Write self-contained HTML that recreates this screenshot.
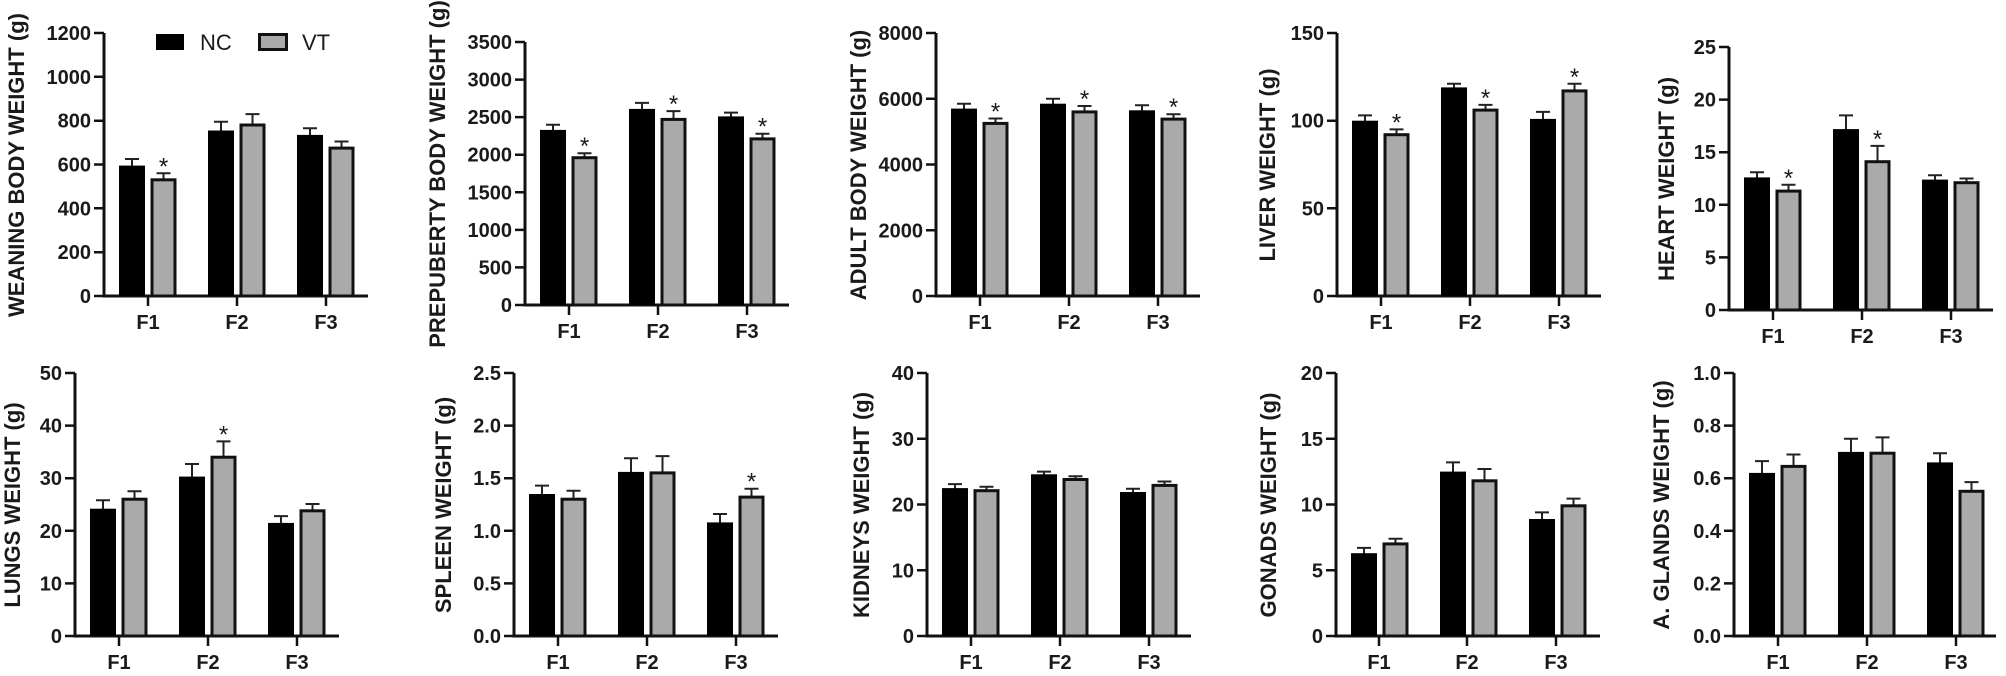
<!DOCTYPE html>
<html><head><meta charset="utf-8"><style>
html,body{margin:0;padding:0;background:#fff}
svg{display:block}
text{font-family:"Liberation Sans",Arial,sans-serif;fill:#1a1a1a}
.ax{fill:none;stroke:#111;stroke-width:3}
.tk{stroke:#111;stroke-width:2.5}
.yl{font-size:20px;font-weight:bold;text-anchor:end}
.xl{font-size:20px;font-weight:bold;text-anchor:middle}
.tl{font-size:22px;font-weight:bold;text-anchor:middle}
.nc{fill:#000}
.vt{fill:#aaa;stroke:#111;stroke-width:3}
.eb{fill:none;stroke:#222;stroke-width:2}
.st{font-size:24px;text-anchor:middle}
</style></head><body>
<svg width="2006" height="676" viewBox="0 0 2006 676" xmlns="http://www.w3.org/2000/svg">
<!-- legend -->
<rect x="156" y="34" width="28" height="16" fill="#000"/>
<text x="200" y="50" style="font-size:22px">NC</text>
<rect x="259.5" y="34.5" width="27" height="15" class="vt"/>
<text x="302" y="50" style="font-size:22px">VT</text>

<!-- Panel 1 -->
<g transform="translate(104,296)">
<text class="tl" transform="translate(-80,-131) rotate(-90)">WEANING BODY WEIGHT (g)</text>
<path class="ax" d="M0,-263V0H264"/>
<path class="tk" d="M-10,0H0M-10,-43.8H0M-10,-87.7H0M-10,-131.5H0M-10,-175.3H0M-10,-219.2H0M-10,-263H0M44,0V10M133,0V10M222,0V10"/>
<text class="yl" x="-13" y="7">0</text><text class="yl" x="-13" y="-36.8">200</text><text class="yl" x="-13" y="-80.7">400</text><text class="yl" x="-13" y="-124.5">600</text><text class="yl" x="-13" y="-168.3">800</text><text class="yl" x="-13" y="-212.2">1000</text><text class="yl" x="-13" y="-256">1200</text>
<text class="xl" x="44" y="33">F1</text><text class="xl" x="133" y="33">F2</text><text class="xl" x="222" y="33">F3</text>
<path class="eb" d="M28,-130V-137M21,-137H35M59.5,-116V-122.7M52.5,-122.7H66.5M117,-165V-174.2M110,-174.2H124M148.5,-171V-181.9M141.5,-181.9H155.5M206,-161V-167.7M199,-167.7H213M237.5,-148V-154.5M230.5,-154.5H244.5"/>
<rect class="nc" x="15" y="-130.4" width="26" height="130.4"/><rect class="vt" x="48" y="-116.2" width="23" height="116.2"/>
<rect class="nc" x="104" y="-165.5" width="26" height="165.5"/><rect class="vt" x="137" y="-171" width="23" height="171"/>
<rect class="nc" x="193" y="-161.1" width="26" height="161.1"/><rect class="vt" x="226" y="-147.9" width="23" height="147.9"/>
<text class="st" x="59.5" y="-121.7">*</text>
</g>

<!-- Panel 2 -->
<g transform="translate(525,305)">
<text class="tl" transform="translate(-80,-131) rotate(-90)">PREPUBERTY BODY WEIGHT (g)</text>
<path class="ax" d="M0,-263V0H264"/>
<path class="tk" d="M-10,0H0M-10,-37.6H0M-10,-75.1H0M-10,-112.7H0M-10,-150.3H0M-10,-187.9H0M-10,-225.4H0M-10,-263H0M44,0V10M133,0V10M222,0V10"/>
<text class="yl" x="-13" y="7">0</text><text class="yl" x="-13" y="-30.6">500</text><text class="yl" x="-13" y="-68.1">1000</text><text class="yl" x="-13" y="-105.7">1500</text><text class="yl" x="-13" y="-143.3">2000</text><text class="yl" x="-13" y="-180.9">2500</text><text class="yl" x="-13" y="-218.4">3000</text><text class="yl" x="-13" y="-256">3500</text>
<text class="xl" x="44" y="33">F1</text><text class="xl" x="133" y="33">F2</text><text class="xl" x="222" y="33">F3</text>
<path class="eb" d="M28,-175V-180.3M21,-180.3H35M59.5,-147V-151.8M52.5,-151.8H66.5M117,-196V-202.1M110,-202.1H124M148.5,-185V-193.9M141.5,-193.9H155.5M206,-188V-192.4M199,-192.4H213M237.5,-166V-171.3M230.5,-171.3H244.5"/>
<rect class="nc" x="15" y="-175.1" width="26" height="175.1"/><rect class="vt" x="48" y="-147.3" width="23" height="147.3"/>
<rect class="nc" x="104" y="-196.1" width="26" height="196.1"/><rect class="vt" x="137" y="-185.6" width="23" height="185.6"/>
<rect class="nc" x="193" y="-188.6" width="26" height="188.6"/><rect class="vt" x="226" y="-166.1" width="23" height="166.1"/>
<text class="st" x="59.5" y="-150.8">*</text><text class="st" x="148.5" y="-192.9">*</text><text class="st" x="237.5" y="-170.3">*</text>
</g>

<!-- Panel 3 -->
<g transform="translate(936,296)">
<text class="tl" transform="translate(-70,-131) rotate(-90)">ADULT BODY WEIGHT (g)</text>
<path class="ax" d="M0,-263V0H264"/>
<path class="tk" d="M-10,0H0M-10,-65.75H0M-10,-131.5H0M-10,-197.25H0M-10,-263H0M44,0V10M133,0V10M222,0V10"/>
<text class="yl" x="-13" y="7">0</text><text class="yl" x="-13" y="-58.75">2000</text><text class="yl" x="-13" y="-124.5">4000</text><text class="yl" x="-13" y="-190.25">6000</text><text class="yl" x="-13" y="-256">8000</text>
<text class="xl" x="44" y="33">F1</text><text class="xl" x="133" y="33">F2</text><text class="xl" x="222" y="33">F3</text>
<path class="eb" d="M28,-187V-192.3M21,-192.3H35M59.5,-172V-177.5M52.5,-177.5H66.5M117,-192V-197.3M110,-197.3H124M148.5,-184V-190M141.5,-190H155.5M206,-185V-190.7M199,-190.7H213M237.5,-176V-181.8M230.5,-181.8H244.5"/>
<rect class="nc" x="15" y="-187.4" width="26" height="187.4"/><rect class="vt" x="48" y="-172.6" width="23" height="172.6"/>
<rect class="nc" x="104" y="-192.3" width="26" height="192.3"/><rect class="vt" x="137" y="-184.1" width="23" height="184.1"/>
<rect class="nc" x="193" y="-185.7" width="26" height="185.7"/><rect class="vt" x="226" y="-176.9" width="23" height="176.9"/>
<text class="st" x="59.5" y="-176.5">*</text><text class="st" x="148.5" y="-189">*</text><text class="st" x="237.5" y="-180.8">*</text>
</g>

<!-- Panel 4 -->
<g transform="translate(1337,296)">
<text class="tl" transform="translate(-62,-131) rotate(-90)">LIVER WEIGHT (g)</text>
<path class="ax" d="M0,-263V0H264"/>
<path class="tk" d="M-10,0H0M-10,-87.7H0M-10,-175.3H0M-10,-263H0M44,0V10M133,0V10M222,0V10"/>
<text class="yl" x="-13" y="7">0</text><text class="yl" x="-13" y="-80.7">50</text><text class="yl" x="-13" y="-168.3">100</text><text class="yl" x="-13" y="-256">150</text>
<text class="xl" x="44" y="33">F1</text><text class="xl" x="133" y="33">F2</text><text class="xl" x="222" y="33">F3</text>
<path class="eb" d="M28,-175V-180.6M21,-180.6H35M59.5,-161V-166.6M52.5,-166.6H66.5M117,-208V-212.2M110,-212.2H124M148.5,-185V-191.1M141.5,-191.1H155.5M206,-177V-184.1M199,-184.1H213M237.5,-205V-212.2M230.5,-212.2H244.5"/>
<rect class="nc" x="15" y="-175.3" width="26" height="175.3"/><rect class="vt" x="48" y="-161.3" width="23" height="161.3"/>
<rect class="nc" x="104" y="-208.6" width="26" height="208.6"/><rect class="vt" x="137" y="-185.9" width="23" height="185.9"/>
<rect class="nc" x="193" y="-177.1" width="26" height="177.1"/><rect class="vt" x="226" y="-205.1" width="23" height="205.1"/>
<text class="st" x="59.5" y="-165.6">*</text><text class="st" x="148.5" y="-190.1">*</text><text class="st" x="237.5" y="-211.2">*</text>
</g>

<!-- Panel 5 -->
<g transform="translate(1729,310)">
<text class="tl" transform="translate(-55,-131) rotate(-90)">HEART WEIGHT (g)</text>
<path class="ax" d="M0,-263V0H264"/>
<path class="tk" d="M-10,0H0M-10,-52.6H0M-10,-105.2H0M-10,-157.8H0M-10,-210.4H0M-10,-263H0M44,0V10M133,0V10M222,0V10"/>
<text class="yl" x="-13" y="7">0</text><text class="yl" x="-13" y="-45.6">5</text><text class="yl" x="-13" y="-98.2">10</text><text class="yl" x="-13" y="-150.8">15</text><text class="yl" x="-13" y="-203.4">20</text><text class="yl" x="-13" y="-256">25</text>
<text class="xl" x="44" y="33">F1</text><text class="xl" x="133" y="33">F2</text><text class="xl" x="222" y="33">F3</text>
<path class="eb" d="M28,-132V-137.8M21,-137.8H35M59.5,-118V-125.2M52.5,-125.2H66.5M117,-180V-194.6M110,-194.6H124M148.5,-148V-164.1M141.5,-164.1H155.5M206,-130V-134.7M199,-134.7H213M237.5,-127V-131.5M230.5,-131.5H244.5"/>
<rect class="nc" x="15" y="-132.6" width="26" height="132.6"/><rect class="vt" x="48" y="-118.9" width="23" height="118.9"/>
<rect class="nc" x="104" y="-180.9" width="26" height="180.9"/><rect class="vt" x="137" y="-148.3" width="23" height="148.3"/>
<rect class="nc" x="193" y="-130.4" width="26" height="130.4"/><rect class="vt" x="226" y="-127.3" width="23" height="127.3"/>
<text class="st" x="59.5" y="-124.2">*</text><text class="st" x="148.5" y="-163.1">*</text>
</g>

<!-- Lungs -->
<g transform="translate(75,636)">
<text class="tl" transform="translate(-55,-131) rotate(-90)">LUNGS WEIGHT (g)</text>
<path class="ax" d="M0,-263V0H264"/>
<path class="tk" d="M-10,0H0M-10,-52.6H0M-10,-105.2H0M-10,-157.8H0M-10,-210.4H0M-10,-263H0M44,0V10M133,0V10M222,0V10"/>
<text class="yl" x="-13" y="7">0</text><text class="yl" x="-13" y="-45.6">10</text><text class="yl" x="-13" y="-98.2">20</text><text class="yl" x="-13" y="-150.8">30</text><text class="yl" x="-13" y="-203.4">40</text><text class="yl" x="-13" y="-256">50</text>
<text class="xl" x="44" y="33">F1</text><text class="xl" x="133" y="33">F2</text><text class="xl" x="222" y="33">F3</text>
<path class="eb" d="M28,-127V-135.7M21,-135.7H35M59.5,-136V-144.7M52.5,-144.7H66.5M117,-159V-172M110,-172H124M148.5,-178V-194.6M141.5,-194.6H155.5M206,-113V-119.9M199,-119.9H213M237.5,-125V-132M230.5,-132H244.5"/>
<rect class="nc" x="15" y="-127.3" width="26" height="127.3"/><rect class="vt" x="48" y="-136.8" width="23" height="136.8"/>
<rect class="nc" x="104" y="-159.4" width="26" height="159.4"/><rect class="vt" x="137" y="-178.8" width="23" height="178.8"/>
<rect class="nc" x="193" y="-113.1" width="26" height="113.1"/><rect class="vt" x="226" y="-125.2" width="23" height="125.2"/>
<text class="st" x="148.5" y="-193.6">*</text>
</g>

<!-- Spleen -->
<g transform="translate(514,636)">
<text class="tl" transform="translate(-63,-131) rotate(-90)">SPLEEN WEIGHT (g)</text>
<path class="ax" d="M0,-263V0H264"/>
<path class="tk" d="M-10,0H0M-10,-52.6H0M-10,-105.2H0M-10,-157.8H0M-10,-210.4H0M-10,-263H0M44,0V10M133,0V10M222,0V10"/>
<text class="yl" x="-13" y="7">0.0</text><text class="yl" x="-13" y="-45.6">0.5</text><text class="yl" x="-13" y="-98.2">1.0</text><text class="yl" x="-13" y="-150.8">1.5</text><text class="yl" x="-13" y="-203.4">2.0</text><text class="yl" x="-13" y="-256">2.5</text>
<text class="xl" x="44" y="33">F1</text><text class="xl" x="133" y="33">F2</text><text class="xl" x="222" y="33">F3</text>
<path class="eb" d="M28,-142V-150.4M21,-150.4H35M59.5,-136V-145.2M52.5,-145.2H66.5M117,-164V-177.8M110,-177.8H124M148.5,-163V-179.9M141.5,-179.9H155.5M206,-113V-122M199,-122H213M237.5,-138V-147.3M230.5,-147.3H244.5"/>
<rect class="nc" x="15" y="-142" width="26" height="142"/><rect class="vt" x="48" y="-136.8" width="23" height="136.8"/>
<rect class="nc" x="104" y="-164.1" width="26" height="164.1"/><rect class="vt" x="137" y="-163.1" width="23" height="163.1"/>
<rect class="nc" x="193" y="-113.6" width="26" height="113.6"/><rect class="vt" x="226" y="-138.9" width="23" height="138.9"/>
<text class="st" x="237.5" y="-146.3">*</text>
</g>

<!-- Kidneys -->
<g transform="translate(927,636)">
<text class="tl" transform="translate(-58,-131) rotate(-90)">KIDNEYS WEIGHT (g)</text>
<path class="ax" d="M0,-263V0H264"/>
<path class="tk" d="M-10,0H0M-10,-65.75H0M-10,-131.5H0M-10,-197.25H0M-10,-263H0M44,0V10M133,0V10M222,0V10"/>
<text class="yl" x="-13" y="7">0</text><text class="yl" x="-13" y="-58.75">10</text><text class="yl" x="-13" y="-124.5">20</text><text class="yl" x="-13" y="-190.25">30</text><text class="yl" x="-13" y="-256">40</text>
<text class="xl" x="44" y="33">F1</text><text class="xl" x="133" y="33">F2</text><text class="xl" x="222" y="33">F3</text>
<path class="eb" d="M28,-147V-151.9M21,-151.9H35M59.5,-145V-149.3M52.5,-149.3H66.5M117,-161V-164.4M110,-164.4H124M148.5,-156V-159.8M141.5,-159.8H155.5M206,-144V-147.3M199,-147.3H213M237.5,-150V-154.5M230.5,-154.5H244.5"/>
<rect class="nc" x="15" y="-147.9" width="26" height="147.9"/><rect class="vt" x="48" y="-145.3" width="23" height="145.3"/>
<rect class="nc" x="104" y="-161.7" width="26" height="161.7"/><rect class="vt" x="137" y="-156.5" width="23" height="156.5"/>
<rect class="nc" x="193" y="-144" width="26" height="144"/><rect class="vt" x="226" y="-150.6" width="23" height="150.6"/>
</g>

<!-- Gonads -->
<g transform="translate(1336,636)">
<text class="tl" transform="translate(-60,-131) rotate(-90)">GONADS WEIGHT (g)</text>
<path class="ax" d="M0,-263V0H264"/>
<path class="tk" d="M-10,0H0M-10,-65.75H0M-10,-131.5H0M-10,-197.25H0M-10,-263H0M43,0V10M131,0V10M220,0V10"/>
<text class="yl" x="-13" y="7">0</text><text class="yl" x="-13" y="-58.75">5</text><text class="yl" x="-13" y="-124.5">10</text><text class="yl" x="-13" y="-190.25">15</text><text class="yl" x="-13" y="-256">20</text>
<text class="xl" x="43" y="33">F1</text><text class="xl" x="131" y="33">F2</text><text class="xl" x="220" y="33">F3</text>
<path class="eb" d="M28,-82V-88.1M21,-88.1H35M59.5,-92V-97.3M52.5,-97.3H66.5M117,-164V-173.6M110,-173.6H124M148.5,-155V-167M141.5,-167H155.5M206,-117V-123.6M199,-123.6H213M237.5,-130V-137.4M230.5,-137.4H244.5"/>
<rect class="nc" x="15" y="-82.8" width="26" height="82.8"/><rect class="vt" x="48" y="-92.1" width="23" height="92.1"/>
<rect class="nc" x="104" y="-164.4" width="26" height="164.4"/><rect class="vt" x="137" y="-155.2" width="23" height="155.2"/>
<rect class="nc" x="193" y="-117" width="26" height="117"/><rect class="vt" x="226" y="-130.2" width="23" height="130.2"/>
</g>

<!-- Glands -->
<g transform="translate(1734,636)">
<text class="tl" transform="translate(-65,-131) rotate(-90)">A. GLANDS WEIGHT (g)</text>
<path class="ax" d="M0,-263V0H262"/>
<path class="tk" d="M-10,0H0M-10,-52.6H0M-10,-105.2H0M-10,-157.8H0M-10,-210.4H0M-10,-263H0M44,0V10M133,0V10M222,0V10"/>
<text class="yl" x="-13" y="7">0.0</text><text class="yl" x="-13" y="-45.6">0.2</text><text class="yl" x="-13" y="-98.2">0.4</text><text class="yl" x="-13" y="-150.8">0.6</text><text class="yl" x="-13" y="-203.4">0.8</text><text class="yl" x="-13" y="-256">1.0</text>
<text class="xl" x="44" y="33">F1</text><text class="xl" x="133" y="33">F2</text><text class="xl" x="222" y="33">F3</text>
<path class="eb" d="M28,-163V-174.9M21,-174.9H35M59.5,-169V-181.5M52.5,-181.5H66.5M117,-184V-197.3M110,-197.3H124M148.5,-182V-198.6M141.5,-198.6H155.5M206,-173V-182.8M199,-182.8H213M237.5,-144V-153.9M230.5,-153.9H244.5"/>
<rect class="nc" x="15" y="-163.1" width="26" height="163.1"/><rect class="vt" x="48" y="-169.6" width="23" height="169.6"/>
<rect class="nc" x="104" y="-184.1" width="26" height="184.1"/><rect class="vt" x="137" y="-182.8" width="23" height="182.8"/>
<rect class="nc" x="193" y="-173.6" width="26" height="173.6"/><rect class="vt" x="226" y="-144.7" width="23" height="144.7"/>
</g>
</svg>
</body></html>
